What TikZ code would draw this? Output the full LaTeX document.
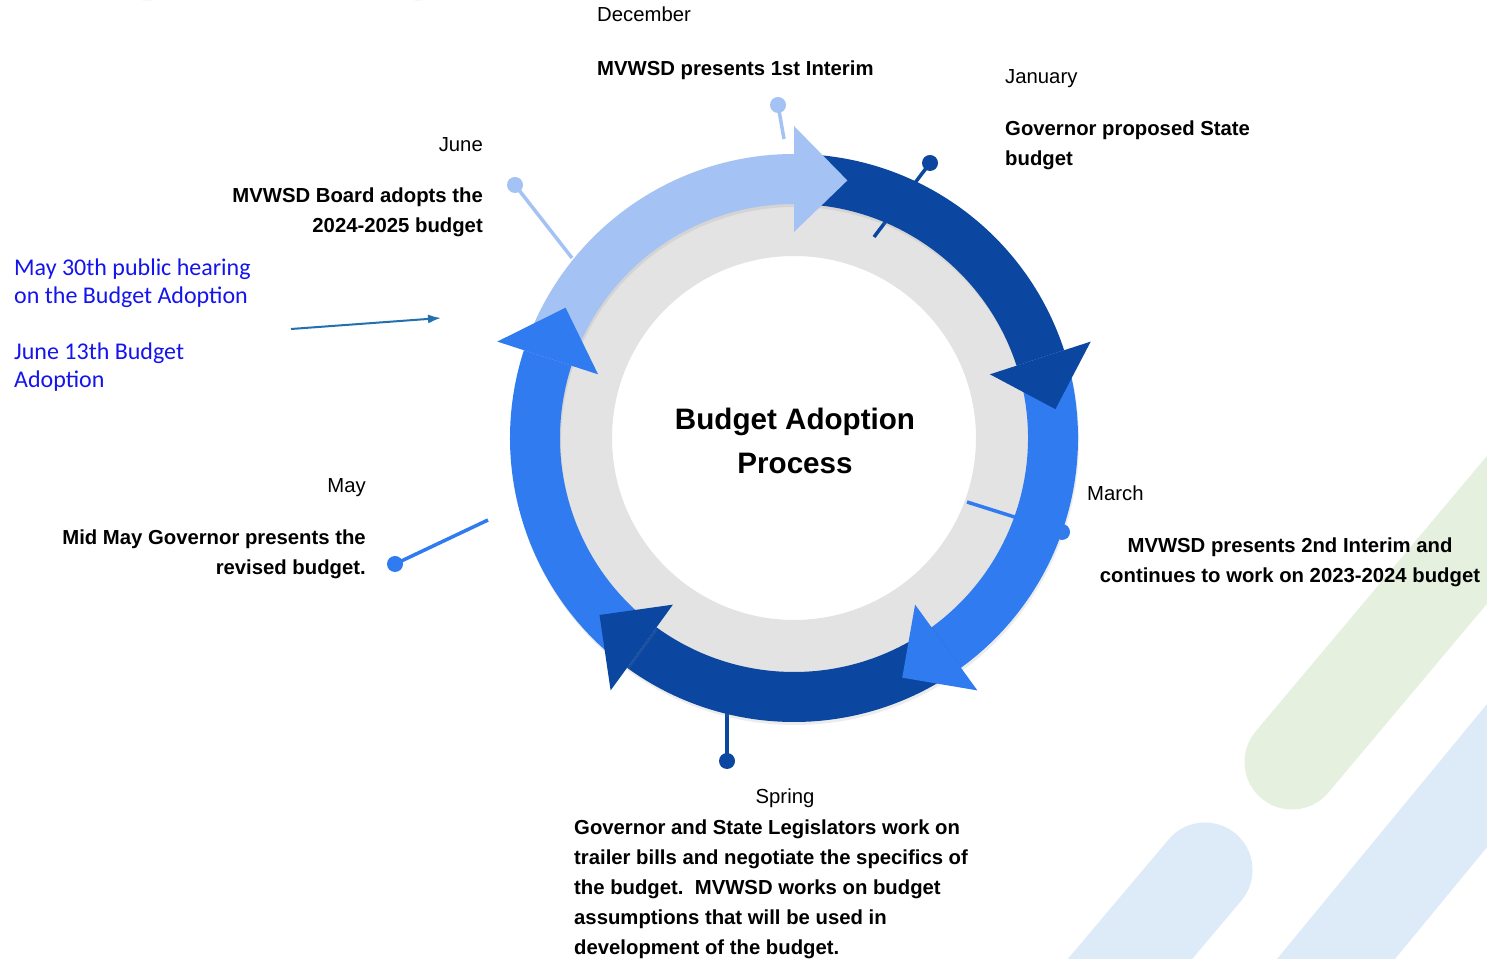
\documentclass[tikz,border=0pt]{standalone}
\usepackage{fontspec}
\setmainfont{Liberation Sans}
\newfontfamily\notefont{Carlito}
\usetikzlibrary{arrows.meta, shadows}

\definecolor{lightarc}{HTML}{A4C2F4}
\definecolor{darkarc}{HTML}{0B47A1}
\definecolor{midarc}{HTML}{307BF0}
\definecolor{ringgray}{HTML}{E3E3E3}
\definecolor{notecolor}{HTML}{1414EE}
\definecolor{pointercolor}{HTML}{2370B0}
\definecolor{stripegreen}{HTML}{E5F0DE}
\definecolor{stripeblue}{HTML}{DCEBF7}

\begin{document}
\begin{tikzpicture}[
    x=1pt, y=1pt,
    band/.style={drop shadow={opacity=0.15, shadow xshift=1pt, shadow yshift=-3pt}},
    pin/.style={line width=3.5pt},
    dot/.style={circle, minimum size=16pt, inner sep=0pt},
    month/.style={font=\fontsize{20.3}{30}\selectfont, inner sep=0pt},
    event/.style={font=\fontsize{20.3}{30}\selectfont\bfseries, inner sep=0pt},
    note/.style={font=\notefont\fontsize{24}{28}\selectfont, text=notecolor, inner sep=0pt, align=left},
    pointer/.style={-{Latex[length=13pt, width=9pt]}, line width=2pt, pointercolor}
  ]
  \useasboundingbox[fill=white] (0,0) rectangle (1487,958);

  % background stripes
  \draw[stripegreen, line width=95pt, line cap=round] (1292,196) -- (1549,502);
  \draw[stripeblue, line width=95pt, line cap=round] (1205,88) -- (1076,-65);
  \draw[stripeblue, line width=91pt] (1303,-41) -- (1532,237);
  \fill[stripeblue!40!white] (147,962) ellipse (10 and 5);
  \fill[stripeblue!40!white] (418,962) ellipse (8 and 5);

  % gray ring
  \fill[ringgray, even odd rule] (794,520) circle (250) circle (182);

  % pins
  \node[dot, fill=lightarc] (decdot) at (778,853) {};
  \node[dot, fill=lightarc] (jundot) at (515,773) {};
  \node[dot, fill=darkarc] (jandot) at (930,795) {};
  \node[dot, fill=midarc] (mardot) at (1062,426) {};
  \node[dot, fill=darkarc] (sprdot) at (727,197) {};
  \node[dot, fill=midarc] (maydot) at (395,394) {};
  \coordinate (decend) at (784,819);
  \coordinate (junend) at (572,700);
  \coordinate (janend) at (874,721);
  \coordinate (marend) at (967,456);
  \coordinate (sprend) at (727,260);
  \coordinate (mayend) at (488,438);
  \draw[pin, lightarc] (decdot.center) -- (decend);
  \draw[pin, lightarc] (jundot.center) -- (junend);
  \draw[pin, darkarc] (jandot.center) -- (janend);
  \draw[pin, midarc] (mardot.center) -- (marend);
  \draw[pin, darkarc] (sprdot.center) -- (sprend);
  \draw[pin, midarc] (maydot.center) -- (mayend);

  % cycle arrows
  \begin{scope}[shift={(794,520)}]
    \fill[band, lightarc] (162:284) arc[start angle=162, end angle=90, radius=284] -- (90:234) arc[start angle=90, end angle=162, radius=234] -- cycle;
    \fill[band, darkarc] (90:284) arc[start angle=90, end angle=18, radius=284] -- (18:234) arc[start angle=18, end angle=90, radius=234] -- cycle;
    \fill[band, midarc] (18:284) arc[start angle=18, end angle=-54, radius=284] -- (-54:234) arc[start angle=-54, end angle=18, radius=234] -- cycle;
    \fill[band, darkarc] (-54:284) arc[start angle=-54, end angle=-126, radius=284] -- (-126:234) arc[start angle=-126, end angle=-54, radius=234] -- cycle;
    \fill[band, midarc] (-126:284) arc[start angle=-126, end angle=-198, radius=284] -- (-198:234) arc[start angle=-198, end angle=-126, radius=234] -- cycle;

    \fill[lightarc] (90:206) -- (90:312) -- (78.3:263) -- cycle;
    \fill[darkarc] (18:206) -- (18:312) -- (6.3:263) -- cycle;
    \fill[midarc] (-54:206) -- (-54:312) -- (-65.7:263) -- cycle;
    \fill[darkarc] (-126:206) -- (-126:312) -- (-137.7:263) -- cycle;
    \fill[midarc] (162:206) -- (162:312) -- (150.3:263) -- cycle;
  \end{scope}

  % title (multi-line nodes sit on the baseline of their last line)
  \node[font=\fontsize{29.6}{44}\selectfont\bfseries, align=center, inner sep=0pt, anchor=base] (title) at (795,484) {Budget Adoption\\Process};

  % months and events
  \node[month, anchor=base west] (decmonth) at (597,936) {December};
  \node[event, anchor=base west] (decevent) at (597,882) {MVWSD presents 1st Interim};

  \node[month, anchor=base west] (janmonth) at (1005,874) {January};
  \node[event, anchor=base west, align=left] (janevent) at (1005,792) {Governor proposed State\\budget};

  \node[month, anchor=base west] (marmonth) at (1087,457) {March};
  \node[event, anchor=base, align=center] (marevent) at (1290,375) {MVWSD presents 2nd Interim and\\continues to work on 2023-2024 budget};

  \node[month, anchor=base] (sprmonth) at (785,154) {Spring};
  \node[event, anchor=base west, align=left] (sprevent) at (574,4) {Governor and State Legislators work on\\trailer bills and negotiate the specifics of\\the budget.\ \ MVWSD works on budget\\assumptions that will be used in\\development of the budget.};

  \node[month, anchor=base east] (maymonth) at (366,465) {May};
  \node[event, anchor=base east, align=right] (mayevent) at (366,383) {Mid May Governor presents the\\revised budget.};

  \node[month, anchor=base east] (junmonth) at (483,806) {June};
  \node[event, anchor=base east, align=right] (junevent) at (483,725) {MVWSD Board adopts the\\2024-2025 budget};

  % public hearing note
  \node[note, anchor=base west] (hearing) at (14,570) {May 30th public hearing\\on the Budget Adoption\\[28pt]June 13th Budget\\Adoption};
  \coordinate (notefrom) at (291,629);
  \coordinate (noteto) at (441,640);
  \draw[pointer] (notefrom) -- (noteto);
\end{tikzpicture}
\end{document}
